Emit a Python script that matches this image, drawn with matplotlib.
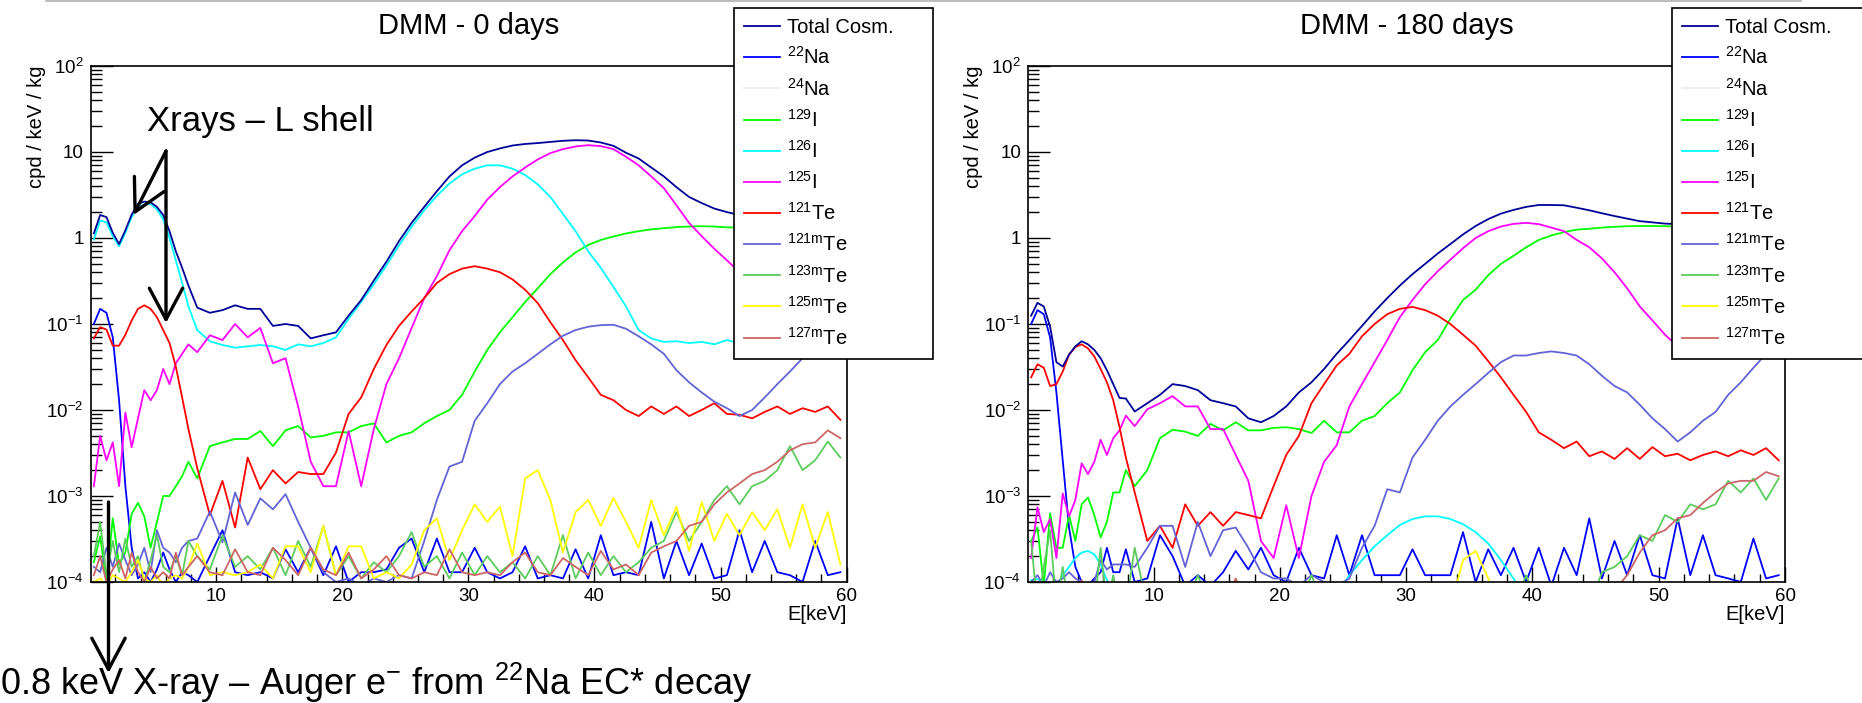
import numpy as np
import matplotlib
matplotlib.use("Agg")
import matplotlib.pyplot as plt
from matplotlib.ticker import FixedLocator, MultipleLocator, LogLocator, NullFormatter
from matplotlib.lines import Line2D

plt.rcParams['font.family'] = ['Liberation Sans', 'DejaVu Sans']
plt.rcParams['mathtext.fontset'] = 'custom'
plt.rcParams['mathtext.rm'] = 'Liberation Sans'
plt.rcParams['mathtext.it'] = 'Liberation Sans:italic'
plt.rcParams['mathtext.bf'] = 'Liberation Sans:bold'
plt.rcParams['mathtext.default'] = 'regular'

# energy bins in keV: 0.5 keV steps up to 8 keV, then 1 keV steps
E = np.concatenate([np.arange(0.3, 8.0, 0.5), np.arange(8.5, 60.0, 1.0)])

labels = ['Total Cosm.', r'$^{22}$Na', r'$^{24}$Na', r'$^{129}$I', r'$^{126}$I', r'$^{125}$I',
          r'$^{121}$Te', r'$^{121m}$Te', r'$^{123m}$Te', r'$^{125m}$Te', r'$^{127m}$Te']
colors = ['#000099', '#0000ff', '#f0f0f0', '#00ff00', '#00ffff', '#ff00ff',
          '#ff0000', '#6363d6', '#5ccc5c', '#ffff00', '#cc6666']

# ---------------- DMM - 0 days ----------------
total_0 = [1.13, 1.85, 1.75, 1.15, 0.85, 1.23, 1.87, 2.5, 2.65, 2.6, 2.3, 1.85, 1.2, 0.7, 0.45, 0.28,
           0.155, 0.135, 0.145, 0.165, 0.15, 0.15, 0.095, 0.1, 0.095, 0.068,
           0.074, 0.08, 0.125, 0.19, 0.32, 0.53, 0.92, 1.5, 2.3, 3.5,
           5.2, 7.0, 8.6, 10.0, 11.0, 11.9, 12.4, 12.7, 13.1, 13.5,
           13.7, 13.6, 12.9, 11.8, 9.8, 8.4, 6.6, 5.2, 3.9, 3.0,
           2.55, 2.2, 2.0, 1.85, 1.75, 1.7, 1.65, 1.65, 1.65, 1.7,
           1.7, 1.7]
na22_0 = [0.1, 0.15, 0.135, 0.07, 0.013, 1.3e-3, 2.5e-4, 1.1e-4, 1.3e-4, 1e-4, 1.4e-4, 2.2e-4, 1.4e-4, 1e-4, 1.3e-4, 1.2e-4,
          1e-4, 2e-4, 4e-4, 1.3e-4, 1.2e-4, 1.3e-4, 1.1e-4, 2.4e-4, 1.3e-4, 2.5e-4,
          1.2e-4, 2.6e-4, 1e-4, 1.3e-4, 1.3e-4, 1.4e-4, 2.5e-4, 3.2e-4, 1.3e-4, 3.2e-4,
          1.3e-4, 1.3e-4, 2.5e-4, 1.3e-4, 1.1e-4, 1.3e-4, 2.6e-4, 1.1e-4, 1.2e-4, 1.1e-4,
          2.4e-4, 1.1e-4, 3.5e-4, 1.2e-4, 1.3e-4, 1.2e-4, 5e-4, 1.1e-4, 3e-4, 1.2e-4,
          2.8e-4, 1.1e-4, 1.2e-4, 4e-4, 1.3e-4, 3e-4, 1.3e-4, 1.2e-4, 1e-4, 3e-4,
          1.2e-4, 1.3e-4]
i129_0 = [1.7e-4, 3.4e-4, 1e-4, 5.5e-4, 1.6e-4, 2.2e-4, 6.2e-4, 8.3e-4, 5.8e-4, 2.5e-4, 5e-4, 1e-3, 1e-3, 1.3e-3, 1.7e-3, 2.5e-3,
          1.6e-3, 3.8e-3, 4.2e-3, 4.6e-3, 4.6e-3, 5.7e-3, 3.8e-3, 5.8e-3, 6.5e-3, 4.8e-3,
          5e-3, 5.5e-3, 5.5e-3, 6.5e-3, 7e-3, 4.2e-3, 5e-3, 5.5e-3, 7e-3, 8.5e-3,
          0.01, 0.015, 0.028, 0.05, 0.08, 0.12, 0.18, 0.26, 0.38, 0.52,
          0.68, 0.83, 0.95, 1.04, 1.13, 1.2, 1.26, 1.3, 1.34, 1.36,
          1.37, 1.36, 1.33, 1.32, 1.32, 1.31, 1.31, 1.3, 1.3, 1.3,
          1.3, 1.3]
i126_0 = [0.96, 1.6, 1.52, 1.05, 0.8, 1.15, 1.76, 2.3, 2.45, 2.5, 2.15, 1.65, 1.0, 0.55, 0.3, 0.16,
          0.085, 0.063, 0.057, 0.053, 0.055, 0.057, 0.055, 0.05, 0.058, 0.055,
          0.06, 0.07, 0.115, 0.18, 0.29, 0.48, 0.82, 1.35, 2.1, 3.1,
          4.3, 5.5, 6.4, 7.0, 7.0, 6.4, 5.4, 4.2, 3.0, 1.9,
          1.2, 0.7, 0.45, 0.27, 0.16, 0.085, 0.068, 0.062, 0.063, 0.06,
          0.062, 0.058, 0.065, 0.06, 0.058, 0.062, 0.058, 0.06, 0.058, 0.06,
          0.058, 0.06]
i125_0 = [1.3e-3, 5e-3, 2.6e-3, 4.2e-3, 1.3e-3, 9.3e-3, 3.7e-3, 8e-3, 0.017, 0.013, 0.017, 0.03, 0.02, 0.035, 0.045, 0.058,
          0.047, 0.074, 0.065, 0.1, 0.07, 0.09, 0.035, 0.04, 0.011, 0.0025,
          0.0013, 0.0013, 0.0057, 0.0013, 0.006, 0.02, 0.04, 0.09, 0.2, 0.36,
          0.72, 1.2, 1.8, 2.8, 3.9, 5.2, 6.6, 8.2, 9.7, 10.8,
          11.6, 12.0, 11.7, 10.8, 8.8, 7.0, 5.2, 3.8, 2.4, 1.5,
          1.05, 0.75, 0.55, 0.4, 0.3, 0.22, 0.16, 0.12, 0.1, 0.08,
          0.07, 0.06]
te121_0 = [0.068, 0.092, 0.086, 0.056, 0.056, 0.075, 0.11, 0.15, 0.165, 0.15, 0.12, 0.085, 0.06, 0.032, 0.014, 0.006,
           0.0021, 6e-4, 1.5e-3, 4.3e-4, 2.8e-3, 1.2e-3, 2e-3, 1.4e-3, 1.9e-3, 1.8e-3,
           1.8e-3, 3.2e-3, 9e-3, 0.014, 0.03, 0.057, 0.095, 0.14, 0.2, 0.3,
           0.38, 0.44, 0.47, 0.44, 0.4, 0.33, 0.25, 0.175, 0.105, 0.065,
           0.038, 0.024, 0.015, 0.013, 0.01, 0.0085, 0.011, 0.009, 0.011, 0.0085,
           0.01, 0.012, 0.009, 0.0088, 0.008, 0.0095, 0.011, 0.009, 0.0105, 0.0095,
           0.011, 0.0077]
te121m_0 = [1.5e-4, 1.3e-4, 2.5e-4, 1.5e-4, 2.8e-4, 1.8e-4, 1.2e-4, 1.6e-4, 2.5e-4, 1.3e-4, 4e-4, 2.5e-4, 2.2e-4, 1.7e-4, 2.5e-4, 3e-4,
            3.2e-4, 6.6e-4, 2.9e-4, 1.1e-3, 4.6e-4, 9.4e-4, 7e-4, 1.05e-3, 5e-4, 2.5e-4,
            1.3e-4, 1e-4, 1.1e-4, 9e-5, 1.1e-4, 1e-4, 1.2e-4, 1.1e-4, 3e-4, 9e-4,
            2.2e-3, 2.5e-3, 7.5e-3, 0.012, 0.02, 0.028, 0.035, 0.045, 0.058, 0.073,
            0.085, 0.093, 0.097, 0.098, 0.088, 0.072, 0.058, 0.045, 0.029, 0.021,
            0.016, 0.0125, 0.0105, 0.0085, 0.01, 0.014, 0.02, 0.028, 0.04, 0.055,
            0.075, 0.1]
te123m_0 = [2e-4, 5e-4, 1.2e-4, 3e-4, 1.3e-4, 3.2e-4, 1.5e-4, 2e-4, 1e-4, 1.8e-4, 3.5e-4, 1.5e-4, 1.3e-4, 2e-4, 1.2e-4, 3e-4,
            2e-4, 1.4e-4, 3.5e-4, 1.5e-4, 2e-4, 1.4e-4, 2.5e-4, 1.2e-4, 3e-4, 1.5e-4,
            4.5e-4, 1.2e-4, 2e-4, 1.1e-4, 1.7e-4, 1.3e-4, 2e-4, 3.8e-4, 1.5e-4, 2e-4,
            1.1e-4, 2.2e-4, 1.2e-4, 2e-4, 1.3e-4, 1.7e-4, 1.1e-4, 2e-4, 1.2e-4, 3.5e-4,
            1.1e-4, 2.2e-4, 1.2e-4, 2e-4, 1.3e-4, 1.7e-4, 2.5e-4, 3e-4, 6.5e-4, 3e-4,
            5e-4, 9e-4, 1.3e-3, 8e-4, 1.3e-3, 1.5e-3, 2e-3, 3.8e-3, 2e-3, 2.6e-3,
            4.3e-3, 2.8e-3]
te125m_0 = [1e-4, 1.1e-4, 9e-5, 1.2e-4, 1.1e-4, 1e-4, 1.3e-4, 1.8e-4, 1.1e-4, 1e-4, 1.2e-4, 9e-5, 1.1e-4, 1.2e-4, 1.1e-4, 1.5e-4,
            2.8e-4, 1.2e-4, 1.3e-4, 1.2e-4, 1.3e-4, 1.6e-4, 1.1e-4, 2.6e-4, 2.6e-4, 1.3e-4,
            4.5e-4, 1.2e-4, 2.6e-4, 2.6e-4, 1.1e-4, 1.3e-4, 1.1e-4, 1.6e-4, 4e-4, 5.5e-4,
            1.8e-4, 4e-4, 8e-4, 5e-4, 7.5e-4, 2e-4, 1.6e-3, 2e-3, 9e-4, 2.2e-4,
            6.5e-4, 9e-4, 4.5e-4, 9.5e-4, 5e-4, 2.5e-4, 9e-4, 3.5e-4, 7.5e-4, 2.3e-4,
            8.5e-4, 3e-4, 6.2e-4, 3.5e-4, 6.5e-4, 4e-4, 7e-4, 2.5e-4, 8e-4, 2.5e-4,
            6.5e-4, 1.6e-4]
te127m_0 = [1.2e-4, 2e-4, 1e-4, 1.4e-4, 1.8e-4, 1.1e-4, 2.2e-4, 1.3e-4, 1e-4, 1.5e-4, 1.1e-4, 1.3e-4, 1.1e-4, 2.2e-4, 1.2e-4, 1.5e-4,
            2e-4, 1.3e-4, 1.2e-4, 2.4e-4, 1.3e-4, 1.2e-4, 2.5e-4, 1.8e-4, 1.2e-4, 2.5e-4,
            1.4e-4, 1.2e-4, 2.2e-4, 1.1e-4, 1.4e-4, 2e-4, 1.2e-4, 1.1e-4, 1.3e-4, 1.2e-4,
            2.4e-4, 1.3e-4, 1.2e-4, 1.3e-4, 1.2e-4, 1.7e-4, 2.2e-4, 1.3e-4, 1.2e-4, 1.9e-4,
            1.5e-4, 1.2e-4, 2.3e-4, 1.4e-4, 1.6e-4, 1.2e-4, 2.2e-4, 2.6e-4, 3e-4, 4.5e-4,
            5e-4, 8e-4, 1.1e-3, 1.4e-3, 1.8e-3, 2e-3, 2.5e-3, 3.4e-3, 4e-3, 4.2e-3,
            5.8e-3, 4.7e-3]

# ---------------- DMM - 180 days ----------------
total_180 = [0.125, 0.176, 0.16, 0.093, 0.036, 0.032, 0.044, 0.055, 0.063, 0.058, 0.05, 0.04, 0.029, 0.02, 0.0138, 0.0136,
             0.0096, 0.012, 0.015, 0.02, 0.019, 0.017, 0.013, 0.012, 0.011, 0.008,
             0.0072, 0.0085, 0.011, 0.016, 0.021, 0.03, 0.045, 0.065, 0.095, 0.14,
             0.2, 0.28, 0.38, 0.5, 0.66, 0.85, 1.1, 1.38, 1.66, 1.92,
             2.12, 2.3, 2.42, 2.42, 2.4, 2.25, 2.1, 1.94, 1.8, 1.68,
             1.57, 1.52, 1.47, 1.45, 1.45, 1.45, 1.45, 1.45, 1.45, 1.45,
             1.45, 1.45]
na22_180 = [0.1, 0.145, 0.13, 0.07, 0.016, 2.6e-3, 4.3e-4, 1.5e-4, 1e-4, 9e-5, 1.1e-4, 1.3e-4, 2.5e-4, 1.3e-4, 1.3e-4, 2.4e-4,
            1e-4, 1.1e-4, 3.5e-4, 2e-4, 9e-5, 1.2e-4, 9e-5, 1.3e-4, 2.3e-4, 1.4e-4,
            2.5e-4, 1.2e-4, 1e-4, 2.5e-4, 1.2e-4, 1.1e-4, 3.5e-4, 1.2e-4, 3.5e-4, 1.2e-4,
            1.2e-4, 1.2e-4, 2.4e-4, 1.2e-4, 1.2e-4, 1.2e-4, 3.8e-4, 1e-4, 2.4e-4, 1.2e-4,
            2.5e-4, 1e-4, 2.5e-4, 9e-5, 2.5e-4, 1.2e-4, 5.5e-4, 1.1e-4, 3e-4, 1.2e-4,
            3.5e-4, 1.2e-4, 1.1e-4, 5.5e-4, 1.2e-4, 3.5e-4, 1.2e-4, 1.1e-4, 1e-4, 3.2e-4,
            1.1e-4, 1.2e-4]
i129_180 = [3e-4, 4.3e-4, 9e-5, 6.3e-4, 2.5e-4, 2.5e-4, 6e-4, 3e-4, 8e-4, 9.6e-4, 6e-4, 3.3e-4, 5e-4, 1.1e-3, 1.1e-3, 2e-3,
            1.3e-3, 2e-3, 4.7e-3, 5.9e-3, 5.6e-3, 5e-3, 6.9e-3, 5.8e-3, 7.2e-3, 5.8e-3,
            5.8e-3, 6.2e-3, 6.3e-3, 6e-3, 5.4e-3, 7.5e-3, 5.5e-3, 5.5e-3, 7.5e-3, 8.5e-3,
            0.012, 0.016, 0.029, 0.047, 0.065, 0.115, 0.19, 0.25, 0.37, 0.5,
            0.62, 0.78, 0.95, 1.07, 1.17, 1.25, 1.28, 1.32, 1.35, 1.37,
            1.38, 1.38, 1.37, 1.36, 1.36, 1.36, 1.36, 1.36, 1.36, 1.36,
            1.36, 1.36]
i126_180 = [1.05e-4, 1.08e-4, 1.0e-4, 8e-5, 9e-5, 1.2e-4, 1.5e-4, 1.9e-4, 2.2e-4, 2.3e-4, 2.1e-4, 1.6e-4, 1.05e-4, 7e-5, 5e-5, 4e-5,
            3e-5, 3e-5, 3e-5, 3e-5, 3e-5, 3e-5, 3e-5, 3e-5, 3e-5, 3e-5,
            3e-5, 3e-5, 3e-5, 3e-5, 3e-5, 3e-5, 7e-5, 1.2e-4, 1.8e-4, 2.6e-4,
            3.5e-4, 4.6e-4, 5.4e-4, 5.8e-4, 5.8e-4, 5.4e-4, 4.7e-4, 3.8e-4, 2.8e-4, 1.8e-4,
            1.1e-4, 6e-5, 3e-5, 3e-5, 3e-5, 3e-5, 3e-5, 3e-5, 3e-5, 3e-5,
            3e-5, 3e-5, 3e-5, 3e-5, 3e-5, 3e-5, 3e-5, 3e-5, 3e-5, 3e-5,
            3e-5, 3e-5]
i125_180 = [1.9e-4, 7.4e-4, 3.8e-4, 5.4e-4, 1.9e-4, 1.07e-3, 5.8e-4, 9e-4, 2.4e-3, 1.8e-3, 2.5e-3, 4.5e-3, 3e-3, 4.7e-3, 5.8e-3, 8.6e-3,
            6.5e-3, 0.0102, 0.012, 0.0145, 0.011, 0.011, 0.006, 0.006, 0.003, 1.5e-3,
            3e-4, 1.9e-4, 7.8e-4, 1.9e-4, 1e-3, 2.5e-3, 3.9e-3, 0.011, 0.02, 0.036,
            0.065, 0.12, 0.19, 0.29, 0.41, 0.56, 0.76, 1.0, 1.2, 1.36,
            1.46, 1.5, 1.45, 1.32, 1.2, 0.95, 0.78, 0.58, 0.4, 0.26,
            0.16, 0.11, 0.075, 0.055, 0.05, 0.048, 0.046, 0.045, 0.045, 0.045,
            0.045, 0.045]
te121_180 = [0.024, 0.034, 0.031, 0.019, 0.02, 0.028, 0.044, 0.054, 0.058, 0.052, 0.042, 0.03, 0.021, 0.013, 0.0063, 0.0028,
             1.1e-3, 3e-4, 4.5e-4, 2.5e-4, 8e-4, 4.5e-4, 6.5e-4, 4.5e-4, 6.5e-4, 6e-4,
             5.5e-4, 1.3e-3, 3e-3, 5e-3, 0.012, 0.02, 0.033, 0.045, 0.072, 0.1,
             0.13, 0.15, 0.158, 0.145, 0.125, 0.1, 0.075, 0.056, 0.037, 0.024,
             0.015, 0.0095, 0.0055, 0.0045, 0.0036, 0.0043, 0.0029, 0.0033, 0.0027, 0.0036,
             0.0027, 0.0037, 0.0029, 0.0031, 0.0026, 0.003, 0.0033, 0.0029, 0.0034, 0.003,
             0.0036, 0.0026]
te121m_180 = [1e-4, 1.2e-4, 9e-5, 1.3e-4, 1e-4, 1.1e-4, 1.3e-4, 1.1e-4, 1e-4, 9e-5, 1e-4, 1.8e-4, 1.4e-4, 1.6e-4, 1.6e-4, 1.6e-4,
              1.5e-4, 2.5e-4, 4.5e-4, 4.5e-4, 1.5e-4, 5e-4, 2e-4, 4e-4, 4.3e-4, 2.5e-4,
              1.3e-4, 1.1e-4, 1.1e-4, 9e-5, 1.2e-4, 1e-4, 9e-5, 1.1e-4, 2.5e-4, 4.5e-4,
              1.2e-3, 1.1e-3, 2.8e-3, 4.5e-3, 7.5e-3, 0.011, 0.015, 0.02, 0.027, 0.036,
              0.043, 0.043, 0.046, 0.048, 0.046, 0.043, 0.034, 0.025, 0.019, 0.016,
              0.0115, 0.008, 0.006, 0.0043, 0.0055, 0.0075, 0.0095, 0.015, 0.021, 0.031,
              0.045, 0.06]
te123m_180 = [3e-4, 5e-5, 1.5e-4, 4e-4, 5e-5, 1.5e-4, 5e-5, 5e-5, 5e-5, 5e-5, 5e-5, 2.5e-4, 5e-5, 1.2e-4, 5e-5, 5e-5,
              2.5e-4, 5e-5, 5e-5, 5e-5, 5e-5, 1.2e-4, 5e-5, 5e-5, 5e-5, 5e-5,
              5e-5, 5e-5, 5e-5, 5e-5, 1.2e-4, 5e-5, 5e-5, 5e-5, 5e-5, 5e-5,
              5e-5, 5e-5, 5e-5, 5e-5, 5e-5, 5e-5, 5e-5, 5e-5, 5e-5, 5e-5,
              5e-5, 1.2e-4, 5e-5, 5e-5, 5e-5, 5e-5, 5e-5, 1.3e-4, 1.5e-4, 2e-4,
              3.5e-4, 3e-4, 6e-4, 5e-4, 8e-4, 7e-4, 8e-4, 1.5e-3, 1.1e-3, 1.6e-3,
              9e-4, 1.6e-3]
te125m_180 = [5e-5, 5e-5, 5e-5, 5e-5, 5e-5, 5e-5, 5e-5, 5e-5, 5e-5, 5e-5, 5e-5, 5e-5, 5e-5, 5e-5, 5e-5, 5e-5,
              5e-5, 5e-5, 5e-5, 5e-5, 5e-5, 5e-5, 5e-5, 5e-5, 5e-5, 5e-5,
              5e-5, 5e-5, 5e-5, 5e-5, 5e-5, 5e-5, 5e-5, 5e-5, 5e-5, 5e-5,
              5e-5, 5e-5, 5e-5, 5e-5, 5e-5, 5e-5, 1.8e-4, 2.3e-4, 1.1e-4, 5e-5,
              5e-5, 5e-5, 5e-5, 5e-5, 5e-5, 5e-5, 5e-5, 5e-5, 5e-5, 5e-5,
              5e-5, 5e-5, 5e-5, 5e-5, 5e-5, 5e-5, 5e-5, 5e-5, 5e-5, 5e-5,
              5e-5, 5e-5]
te127m_180 = [5e-5, 5e-5, 5e-5, 5e-5, 5e-5, 5e-5, 5e-5, 5e-5, 1.05e-4, 5e-5, 5e-5, 5e-5, 5e-5, 5e-5, 5e-5, 5e-5,
              5e-5, 5e-5, 5e-5, 5e-5, 5e-5, 5e-5, 5e-5, 5e-5, 1.1e-4, 5e-5,
              5e-5, 5e-5, 5e-5, 5e-5, 5e-5, 5e-5, 5e-5, 5e-5, 5e-5, 5e-5,
              5e-5, 5e-5, 5e-5, 5e-5, 5e-5, 5e-5, 5e-5, 5e-5, 5e-5, 5e-5,
              5e-5, 5e-5, 5e-5, 5e-5, 5e-5, 5e-5, 5e-5, 5e-5, 8e-5, 1.2e-4,
              2.2e-4, 3.5e-4, 4e-4, 5.5e-4, 6e-4, 8.3e-4, 1.1e-3, 1.4e-3, 1.5e-3, 1.5e-3,
              1.9e-3, 1.7e-3]

panel_0 = [total_0, na22_0, None, i129_0, i126_0, i125_0, te121_0, te121m_0, te123m_0, te125m_0, te127m_0]
panel_180 = [total_180, na22_180, None, i129_180, i126_180, i125_180, te121_180, te121m_180,
             te123m_180, te125m_180, te127m_180]

for lab, ser in zip(labels * 2, panel_0 + panel_180):
    assert ser is None or len(ser) == len(E), (lab, len(ser))

W, H = 1862, 703
fig = plt.figure(figsize=(W / 100, H / 100), dpi=100)

yt = [1e-4, 1e-3, 1e-2, 1e-1, 1, 10, 100]
ytl = [r'$10^{-4}$', r'$10^{-3}$', r'$10^{-2}$', r'$10^{-1}$', '1', '10', r'$10^{2}$']


def panel(rect, series, title, leg_x):
    ax = fig.add_axes(rect)
    handles = []
    for i, (ser, lab, col) in enumerate(zip(series, labels, colors)):
        if ser is None:
            h, = ax.plot([], [], color=col, lw=1.5, label=lab)
        else:
            h, = ax.plot(E, ser, color=col, lw=1.3, label=lab, zorder=3 if i == 0 else 2)
        handles.append(h)
    ax.set_yscale('log')
    ax.set_ylim(1e-4, 100)
    ax.set_xlim(0.05, 60)
    ax.yaxis.set_major_locator(FixedLocator(yt))
    ax.set_yticklabels(ytl)
    ax.yaxis.set_minor_locator(LogLocator(base=10, subs=np.arange(2, 10)))
    ax.yaxis.set_minor_formatter(NullFormatter())
    ax.xaxis.set_major_locator(FixedLocator([10, 20, 30, 40, 50, 60]))
    ax.xaxis.set_minor_locator(MultipleLocator(2))
    ax.tick_params(axis='y', which='major', direction='in', length=16, width=1, labelsize=13.5, pad=5)
    ax.tick_params(axis='y', which='minor', direction='in', length=8, width=1)
    ax.tick_params(axis='x', which='major', direction='in', length=11, width=1, labelsize=13.5, pad=4)
    ax.tick_params(axis='x', which='minor', direction='in', length=5.5, width=1)
    for sp in ax.spines.values():
        sp.set_linewidth(1.2)
    ax.set_ylabel('cpd / keV / kg', fontsize=14.5, loc='top')
    ax.yaxis.set_label_coords(-0.059, 1.0)
    ax.set_xlabel('E[keV]', fontsize=14.5, loc='right')
    ax.xaxis.set_label_coords(1.0, -0.045)
    fig.text(rect[0] + rect[2] / 2, 1 - 33.6 / H, title, fontsize=21, ha='center', va='baseline')
    leg = ax.legend(handles, labels, loc='upper left',
                    bbox_to_anchor=(leg_x, 1 - 362 / H, 199 / W, 354 / H),
                    bbox_transform=fig.transFigure, mode='expand', borderaxespad=0,
                    fontsize=14.5, handlelength=1.8, handletextpad=0.35, labelspacing=0.46,
                    borderpad=0.5, fancybox=False, edgecolor='black', framealpha=1)
    leg.get_frame().set_linewidth(1.2)
    leg.set_zorder(10)
    return ax


axL = panel([90.7 / W, 1 - 582 / H, 756 / W, 516 / H], panel_0, 'DMM - 0 days', 734 / W)
axR = panel([1028 / W, 1 - 582 / H, 757 / W, 516 / H], panel_180, 'DMM - 180 days', 1672 / W)

# thin grey rule along the top edge
fig.add_artist(Line2D([46 / W, 1801 / W], [1 - 1.0 / H, 1 - 1.0 / H], transform=fig.transFigure,
                      color='#b0b0b0', lw=1.2))

# annotations
fig.text(147 / W, 1 - 131 / H, 'Xrays \u2013 L shell', fontsize=25, color='black', va='baseline')
arrow = dict(arrowstyle='->,head_length=0.75,head_width=0.4', lw=2.4, color='black',
             shrinkA=0, shrinkB=0, mutation_scale=30)
start = (166 / W, 1 - 151 / H)
axL.annotate('', xy=(133.5 / W, 1 - 215 / H), xytext=start, xycoords='figure fraction',
             textcoords='figure fraction', arrowprops=arrow, annotation_clip=False)
axL.annotate('', xy=(166 / W, 1 - 323 / H), xytext=start, xycoords='figure fraction',
             textcoords='figure fraction', arrowprops=arrow, annotation_clip=False)
axL.annotate('', xy=(108.5 / W, 1 - 673 / H), xytext=(108.5 / W, 1 - 502 / H),
             xycoords='figure fraction', textcoords='figure fraction', arrowprops=arrow,
             annotation_clip=False)
fig.text(0.0, 1 - 695 / H, '0.8 keV X-ray \u2013 Auger e$^{-}$ from $^{22}$Na EC* decay',
         fontsize=26, color='black', va='baseline')

fig.savefig('out.png', dpi=100)
